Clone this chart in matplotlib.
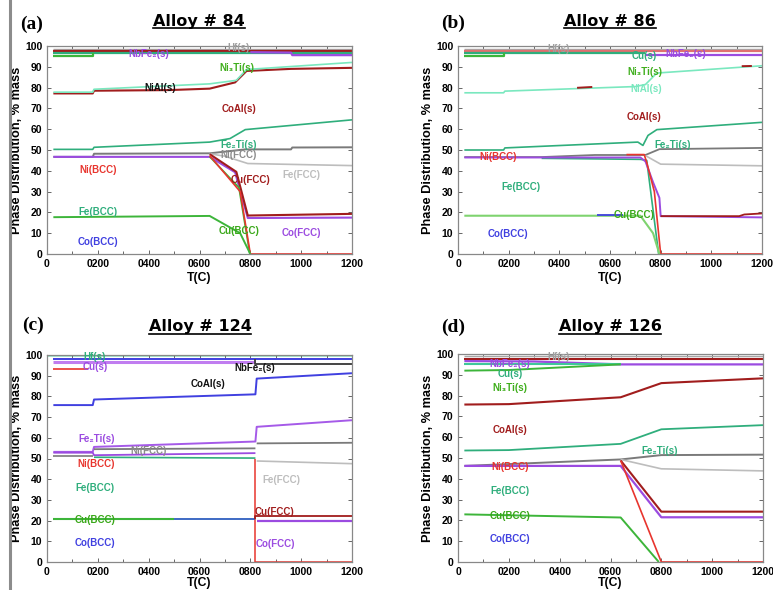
import matplotlib
matplotlib.use("Agg")
import matplotlib.pyplot as plt
from matplotlib.lines import Line2D

plt.rcParams['font.family'] = ['Liberation Sans', 'DejaVu Sans']

# ---------------- common axis data ----------------
XTICK_VALUES = [0, 200, 400, 600, 800, 1000, 1200]
XTICK_LABELS = ['0', '0200', '0400', '0600', '0800', '1000', '1200']
YTICK_VALUES = [0, 10, 20, 30, 40, 50, 60, 70, 80, 90, 100]

# colours
RED = '#e8352e'
BROWN = '#a11d1d'
TEAL = '#2fae7c'
GREEN = '#3db53a'
CYAN = '#7ae8bf'
PURPLE = '#9b4be0'
BLUE = '#4040e0'
DGRAY = '#7a7a7a'
LGRAY = '#bdbdbd'
BLACK = '#111111'

# ---------------- panel (a): Alloy # 84 ----------------
A_HF_T = [25, 1200];                       A_HF = [98.7, 98.7]
A_RED_T = [25, 1200];                      A_RED = [97.8, 97.8]
A_TEAL_T = [25, 1200];                     A_TEALTOP = [96.4, 96.4]
A_GRN_T = [25, 180, 180];                  A_GRNTOP = [95.2, 95.2, 96.4]
A_NBF_T = [800, 960, 965, 1200];           A_NBF = [97.0, 96.8, 95.6, 95.6]
A_CYAN_T = [25, 180, 185, 640, 745, 785, 1200]
A_CYAN = [77.8, 77.8, 79.2, 81.8, 83.5, 88.7, 92.1]
A_BRN_T = [25, 180, 185, 480, 640, 740, 785, 960, 1200]
A_BRN = [77.2, 77.2, 78.5, 78.8, 79.5, 82.5, 88.0, 89.0, 89.5]
A_FE2TI_T = [25, 180, 185, 640, 720, 780, 1200]
A_FE2TI = [50.3, 50.3, 51.3, 53.8, 55.5, 59.8, 64.5]
A_NIFCC_T = [25, 180, 185, 640, 780, 960, 965, 1200]
A_NIFCC = [46.7, 46.7, 48.2, 48.4, 50.3, 50.3, 51.2, 51.3]
A_FEFCC_T = [640, 700, 790, 1200];         A_FEFCC = [48.2, 47.0, 43.5, 42.5]
A_CO_T = [25, 640, 740, 790, 1200];        A_CO = [46.7, 46.7, 39.3, 17.3, 17.5]
A_CUFCC_T = [640, 745, 790, 1200];         A_CUFCC = [48.0, 39.5, 18.5, 19.3]
A_NIBCC_T = [640, 760, 800, 1200];         A_NIBCC = [47.3, 30.0, 0.0, 0.0]
A_FEBCC_T = [640, 755, 798];               A_FEBCC = [46.8, 32.0, 0.0]
A_CUBCC_T = [25, 640, 760, 800];           A_CUBCC = [17.7, 18.3, 10.0, 0.0]

# ---------------- panel (b): Alloy # 86 ----------------
B_HF_T = [25, 1200];                       B_HF = [98.6, 98.6]
B_RED_T = [25, 1200];                      B_RED = [97.5, 97.5]
B_TEAL_T = [25, 740];                      B_TEALTOP = [96.4, 96.4]
B_GRN_T = [25, 180, 180];                  B_GRNTOP = [95.2, 95.2, 96.4]
B_NBF_T = [740, 1200];                     B_NBF = [95.9, 95.9]
B_CYAN_T = [25, 180, 185, 700, 740, 785, 1200]
B_CYAN = [77.5, 77.5, 78.3, 80.5, 81.5, 87.0, 90.5]
B_BRN1_T = [470, 530];                     B_BRN1 = [79.9, 80.3]
B_BRN2_T = [1120, 1160];                   B_BRN2 = [90.3, 90.4]
B_FE2TI_T = [25, 180, 185, 710, 730, 750, 785, 1200]
B_FE2TI = [50.0, 50.0, 51.0, 53.8, 52.2, 57.0, 59.8, 63.3]
B_NIFCC_T = [25, 330, 540, 740, 795, 1200]
B_NIFCC = [46.6, 46.6, 47.6, 47.6, 50.4, 51.0]
B_FEFCC_T = [740, 800, 1200];              B_FEFCC = [47.3, 43.2, 42.4]
B_CO_T = [25, 720, 740, 770, 795, 800, 1200]
B_CO = [46.4, 46.4, 44.5, 34.5, 27.0, 18.2, 17.6]
B_CUFCC_T = [800, 1110, 1130, 1200];       B_CUFCC = [18.2, 18.2, 19.0, 19.5]
B_NIBCC_T = [665, 735, 745, 775, 800, 1200]
B_NIBCC = [47.8, 47.8, 44.0, 30.0, 0.0, 0.0]
B_FEBCC_T = [330, 720, 745, 792];          B_FEBCC = [46.0, 45.5, 45.0, 0.0]
B_CUBCC_T = [25, 720, 770, 795];           B_CUBCC = [18.4, 18.4, 10.0, 0.0]
B_COBCC_T = [550, 650];                    B_COBCC = [18.6, 18.6]

# ---------------- panel (c): Alloy # 124 ----------------
C_HF_T = [0, 1200];                        C_HF_LO = [98.8, 98.8]
C_BLUE_T = [25, 1200];                     C_BLUETOP = [98.1, 98.1]
C_CUS_T = [25, 820];                       C_CUS = [96.4, 96.4]
C_RED_T = [25, 160];                       C_REDTOP = [93.2, 93.2]
C_NBF_T = [820, 820, 1200];                C_NBF = [98.0, 95.6, 95.6]
C_COAL_T = [25, 180, 185, 820, 825, 1200]
C_COAL = [75.8, 75.8, 78.5, 81.0, 88.6, 91.2]
C_FE2TI_T = [25, 180, 185, 820, 825, 1200]
C_FE2TI = [53.2, 53.2, 55.6, 58.2, 65.3, 68.5]
C_NIFCC1_T = [185, 820];                   C_NIFCC1 = [54.5, 54.9]
C_NIFCC2_T = [825, 1200];                  C_NIFCC2 = [57.3, 57.6]
C_PURLO_T = [25, 180, 185, 820];           C_PURLO = [52.8, 52.8, 51.6, 52.6]
C_GRYLO_T = [25, 180];                     C_GRYLO = [51.3, 51.3]
C_FEBCC_T = [185, 820];                    C_FEBCC = [50.6, 50.2]
C_FEFCC_T = [825, 1200];                   C_FEFCC = [48.8, 47.5]
C_NIBCC_T = [820, 820, 1200];              C_NIBCC = [49.8, 0.0, 0.0]
C_CUBCC_T = [25, 500];                     C_CUBCC = [20.9, 20.9]
C_COBCC_T = [500, 820];                    C_COBCC = [20.9, 20.9]
C_CUFCC_T = [820, 820, 1200];              C_CUFCC = [20.9, 22.4, 22.4]
C_COFCC_T = [825, 1200];                   C_COFCC = [19.6, 19.6]

# ---------------- panel (d): Alloy # 126 ----------------
D_HF_T = [25, 1200];                       D_HF = [98.8, 98.8]
D_BRNTOP_T = [25, 1200];                   D_BRNTOP = [97.8, 97.8]
D_NBF_T = [25, 300, 640, 1200];            D_NBF = [96.6, 96.4, 95.0, 95.0]
D_CUS_T = [25, 640];                       D_CUS = [95.3, 95.3]
D_NI3TI_T = [25, 200, 640];                D_NI3TI = [92.0, 92.3, 95.0]
D_COAL_T = [25, 200, 640, 800, 1200];      D_COAL = [75.7, 75.9, 79.2, 86.0, 88.3]
D_FE2TI_T = [25, 200, 640, 800, 1200];     D_FE2TI = [53.6, 53.8, 56.8, 63.8, 65.8]
D_NIFCC_T = [25, 640, 800, 1200];          D_NIFCC = [46.2, 49.3, 51.4, 51.6]
D_FEFCC_T = [640, 800, 1200];              D_FEFCC = [49.3, 44.8, 43.8]
D_CO_T = [25, 640, 800, 1200];             D_CO = [46.2, 46.2, 21.5, 21.5]
D_CUFCC_T = [640, 800, 1200];              D_CUFCC = [48.8, 24.2, 24.2]
D_NIBCC_T = [640, 800, 1200];              D_NIBCC = [48.8, 0.0, 0.0]
D_CUBCC_T = [25, 640, 790];                D_CUBCC = [22.9, 21.4, 0.0]

# ---------------- labels ----------------
A_LABELS = [('NbFe₂(s)', 400, 96.2, PURPLE), ('Hf(s)', 755, 99.0, '#a0a0a0'),
            ('Ni₃Ti(s)', 748, 89.4, '#3fae1c'), ('NiAl(s)', 445, 79.6, BLACK),
            ('CoAl(s)', 755, 69.6, BROWN), ('Fe₂Ti(s)', 755, 52.3, TEAL),
            ('Ni(FCC)', 755, 47.6, '#8a8a8a'), ('Ni(BCC)', 200, 40.3, RED),
            ('Cu(FCC)', 800, 35.6, BROWN), ('Fe(FCC)', 1000, 38.0, LGRAY),
            ('Fe(BCC)', 200, 20.3, TEAL), ('Cu(BCC)', 755, 11.0, '#3aa81a'),
            ('Co(FCC)', 1000, 10.3, PURPLE), ('Co(BCC)', 200, 5.9, BLUE)]
B_LABELS = [('Hf(s)', 395, 98.4, '#a0a0a0'), ('Cu(s)', 736, 95.3, TEAL),
            ('NbFe₂(s)', 900, 96.0, PURPLE), ('Ni₃Ti(s)', 736, 87.3, '#3fae1c'),
            ('NiAl(s)', 742, 79.1, CYAN), ('CoAl(s)', 736, 65.7, BROWN),
            ('Fe₂Ti(s)', 847, 52.5, TEAL), ('Ni(BCC)', 160, 46.7, RED),
            ('Fe(BCC)', 250, 32.4, TEAL), ('Cu(BCC)', 696, 18.7, '#3aa81a'),
            ('Co(BCC)', 198, 9.5, BLUE)]
C_LABELS = [('Hf(s)', 189, 99.2, TEAL), ('Cu(s)', 189, 94.2, PURPLE),
            ('NbFe₂(s)', 818, 93.7, BLACK), ('CoAl(s)', 635, 86.2, BLACK),
            ('Fe₂Ti(s)', 195, 59.6, PURPLE), ('Ni(FCC)', 399, 53.6, '#8a8a8a'),
            ('Ni(BCC)', 195, 47.5, RED), ('Fe(BCC)', 189, 35.7, TEAL),
            ('Fe(FCC)', 923, 39.5, LGRAY), ('Cu(FCC)', 897, 24.2, BROWN),
            ('Cu(BCC)', 189, 20.1, '#3aa81a'), ('Co(FCC)', 897, 8.9, PURPLE),
            ('Co(BCC)', 189, 9.3, BLUE)]
D_LABELS = [('Hf(s)', 395, 98.6, '#a0a0a0'), ('NbFe₂(s)', 205, 95.4, PURPLE),
            ('Cu(s)', 205, 90.3, TEAL), ('Ni₃Ti(s)', 205, 83.7, '#3fae1c'),
            ('CoAl(s)', 205, 63.7, BROWN), ('Fe₂Ti(s)', 795, 53.5, TEAL),
            ('Ni(BCC)', 205, 45.6, RED), ('Fe(BCC)', 205, 34.0, TEAL),
            ('Cu(BCC)', 205, 22.0, '#3aa81a'), ('Co(BCC)', 205, 11.0, BLUE)]

TITLES = ['Alloy # 84', 'Alloy # 86', 'Alloy # 124', 'Alloy # 126']
TAGS = ['(a)', '(b)', '(c)', '(d)']

# ---------------- build the figure ----------------
W, H = 773, 590
fig = plt.figure(figsize=(W / 100, H / 100), dpi=100)

def fx(px):
    return px / W

def fy(py):
    return 1 - py / H

axes_px = [(47, 46, 352, 254), (458, 46, 762, 254),
           (47, 355, 352, 562), (458, 354, 763, 562)]
xlabel_off = [-0.085, -0.085, -0.074, -0.074]

axs = []
for (l, t, r, b) in axes_px:
    ax = fig.add_axes([fx(l), fy(b), (r - l) / W, (b - t) / H])
    axs.append(ax)

def style(ax, xoff):
    ax.set_xlim(0, 1200)
    ax.set_ylim(0, 100)
    ax.set_xticks(XTICK_VALUES)
    ax.set_xticklabels(XTICK_LABELS)
    ax.set_xticks(range(0, 1201, 100), minor=True)
    ax.set_yticks(YTICK_VALUES)
    ax.tick_params(which='both', direction='in', top=True, right=True,
                   length=3, width=0.7, color='#666666', labelsize=7.5, pad=3.5)
    ax.tick_params(which='minor', length=2.5)
    for lbl in ax.get_xticklabels() + ax.get_yticklabels():
        lbl.set_fontweight('bold')
    for s in ax.spines.values():
        s.set_color('#888888')
        s.set_linewidth(0.9)
    ax.set_xlabel('T(C)', fontsize=8.8, fontweight='bold')
    ax.set_ylabel('Phase Distribution, % mass', fontsize=9.2, fontweight='bold')
    ax.xaxis.set_label_coords(0.5, xoff)
    ax.yaxis.set_label_coords(-0.078, 0.5)

def draw(ax, series, labels):
    for (x, y, c, lw) in series:
        ax.plot(x, y, color=c, lw=lw, solid_capstyle='butt')
    for (txt, x, y, c) in labels:
        ax.text(x, y, txt, color=c, fontsize=7, fontweight='bold',
                ha='center', va='center')

LW = 1.2
A_SERIES = [(A_HF_T, A_HF, '#a8a8a8', 1.0), (A_RED_T, A_RED, BROWN, 1.6),
            (A_TEAL_T, A_TEALTOP, TEAL, 1.6), (A_GRN_T, A_GRNTOP, GREEN, 1.6),
            (A_NBF_T, A_NBF, PURPLE, 1.6),
            (A_BRN_T, A_BRN, BROWN, 1.5), (A_CYAN_T, A_CYAN, CYAN, LW),
            (A_FE2TI_T, A_FE2TI, TEAL, LW), (A_NIFCC_T, A_NIFCC, DGRAY, 1.4),
            (A_FEFCC_T, A_FEFCC, LGRAY, LW), (A_CO_T, A_CO, PURPLE, 1.5),
            (A_CUFCC_T, A_CUFCC, BROWN, 1.5), (A_FEBCC_T, A_FEBCC, GREEN, LW),
            (A_NIBCC_T, A_NIBCC, RED, LW), (A_CUBCC_T, A_CUBCC, GREEN, 1.4)]
B_SERIES = [(B_HF_T, B_HF, '#a8a8a8', 1.0), (B_RED_T, B_RED, '#e07070', 1.6),
            (B_TEAL_T, B_TEALTOP, TEAL, 1.6), (B_GRN_T, B_GRNTOP, GREEN, 1.6),
            (B_NBF_T, B_NBF, PURPLE, 1.6),
            (B_CYAN_T, B_CYAN, CYAN, LW), (B_BRN1_T, B_BRN1, BROWN, 1.4),
            (B_BRN2_T, B_BRN2, BROWN, 1.4),
            (B_FE2TI_T, B_FE2TI, TEAL, LW), (B_NIFCC_T, B_NIFCC, DGRAY, 1.3),
            (B_FEFCC_T, B_FEFCC, LGRAY, LW), (B_FEBCC_T, B_FEBCC, TEAL, LW),
            (B_CO_T, B_CO, PURPLE, 1.4), (B_CUFCC_T, B_CUFCC, BROWN, 1.3),
            (B_NIBCC_T, B_NIBCC, RED, LW), (B_CUBCC_T, B_CUBCC, '#7fd36f', 1.5),
            (B_COBCC_T, B_COBCC, BLUE, 1.3)]
C_SERIES = [(C_BLUE_T, C_BLUETOP, BLUE, 1.4), (C_CUS_T, C_CUS, '#c07df0', 2.2),
            (C_RED_T, C_REDTOP, RED, 1.2), (C_NBF_T, C_NBF, '#444444', 1.4),
            (C_COAL_T, C_COAL, BLUE, 1.4), (C_FE2TI_T, C_FE2TI, '#a55ae8', 1.4),
            (C_NIFCC1_T, C_NIFCC1, DGRAY, 1.3), (C_NIFCC2_T, C_NIFCC2, DGRAY, 1.3),
            (C_PURLO_T, C_PURLO, PURPLE, 1.3), (C_GRYLO_T, C_GRYLO, DGRAY, 1.2),
            (C_FEBCC_T, C_FEBCC, TEAL, 1.2), (C_FEFCC_T, C_FEFCC, LGRAY, 1.2),
            (C_NIBCC_T, C_NIBCC, RED, 1.1), (C_CUBCC_T, C_CUBCC, GREEN, 1.5),
            (C_COBCC_T, C_COBCC, '#2f5fbf', 1.3), (C_CUFCC_T, C_CUFCC, BROWN, 1.3),
            (C_COFCC_T, C_COFCC, PURPLE, 1.6)]
D_SERIES = [(D_HF_T, D_HF, '#a8a8a8', 1.0), (D_BRNTOP_T, D_BRNTOP, BROWN, 1.5),
            (D_NBF_T, D_NBF, PURPLE, 1.6), (D_CUS_T, D_CUS, '#3fc89a', 1.5),
            (D_NI3TI_T, D_NI3TI, GREEN, 1.4), (D_COAL_T, D_COAL, BROWN, 1.5),
            (D_FE2TI_T, D_FE2TI, TEAL, 1.3), (D_NIFCC_T, D_NIFCC, DGRAY, 1.4),
            (D_FEFCC_T, D_FEFCC, LGRAY, 1.2), (D_CO_T, D_CO, PURPLE, 1.6),
            (D_CUFCC_T, D_CUFCC, BROWN, 1.5), (D_NIBCC_T, D_NIBCC, RED, 1.2),
            (D_CUBCC_T, D_CUBCC, GREEN, 1.4)]

for ax, xo in zip(axs, xlabel_off):
    style(ax, xo)

axs[2].fill_between(C_HF_T, C_HF_LO, [100, 100], color='#a8e6cf', lw=0)

draw(axs[0], A_SERIES, A_LABELS)
draw(axs[1], B_SERIES, B_LABELS)
draw(axs[2], C_SERIES, C_LABELS)
draw(axs[3], D_SERIES, D_LABELS)

# titles with underline, panel tags
title_pos = [(199, 21.5), (610, 21.5), (200, 327), (610, 327)]
tag_pos = [(32, 24), (453, 23), (33, 325), (453, 327)]
title_artists = []
for i in range(4):
    tx, ty = title_pos[i]
    t = fig.text(fx(tx), fy(ty), TITLES[i], ha='center', va='center',
                 fontsize=11.5, fontweight='bold', family=['DejaVu Sans'])
    title_artists.append(t)
    gx, gy = tag_pos[i]
    fig.text(fx(gx), fy(gy), TAGS[i], ha='center', va='center',
             fontsize=14, fontweight='bold',
             family=['Liberation Serif', 'DejaVu Serif'])

fig.canvas.draw()
renderer = fig.canvas.get_renderer()
for t in title_artists:
    bb = t.get_window_extent(renderer)
    x0, x1 = bb.x0 / W, bb.x1 / W
    yl = (bb.y0 + 1.0) / H
    fig.add_artist(Line2D([x0, x1], [yl, yl], color='black', lw=1.2))

# left grey bar
fig.add_artist(Line2D([fx(9.5), fx(9.5)], [0, 1], color='#8c8c8c', lw=2.2))

fig.savefig('out.png', dpi=100)
